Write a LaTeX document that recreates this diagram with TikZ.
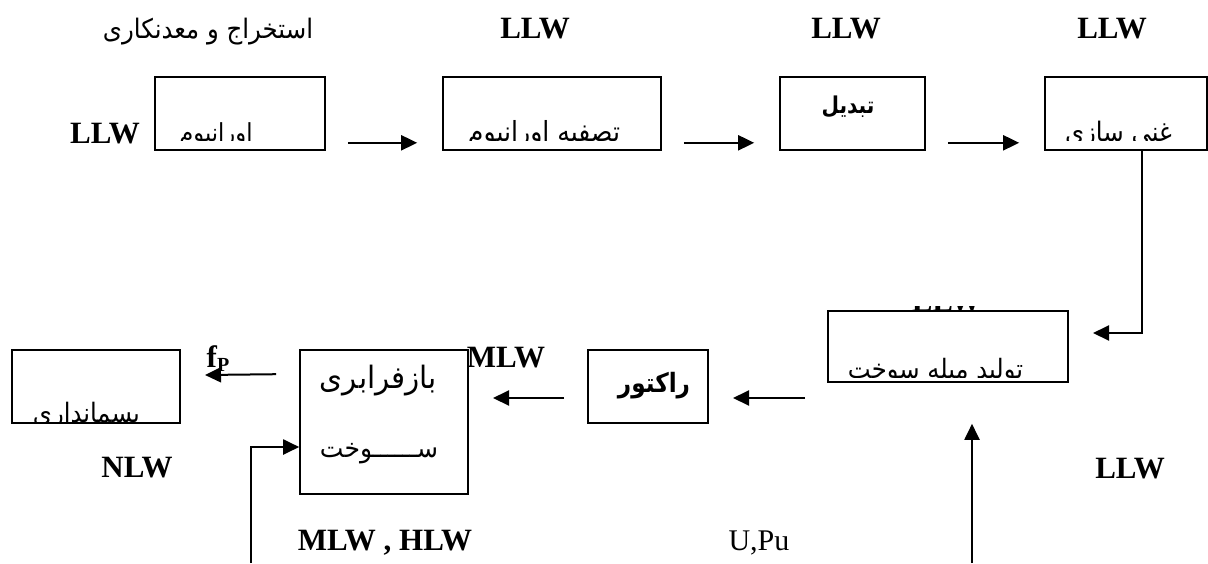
\documentclass[tikz,border=0pt]{standalone}
\usepackage{graphicx}
\usepackage{fontspec}
\setmainfont{Liberation Serif}
\newfontfamily\arabicfont[Script=Arabic]{DejaVu Sans}
\TeXXeTstate=1
\usetikzlibrary{arrows.meta,calc}

% Persian text fitted to a given width, then stretched vertically by a factor
\newcommand{\fatext}[3]{\scalebox{1}[#2]{\resizebox{#1}{!}{\arabicfont #3}}}
\newcommand{\fabold}[3]{\scalebox{1}[#2]{\resizebox{#1}{!}{\arabicfont\bfseries #3}}}

\tikzset{
  box/.style={draw, line width=1.6pt, inner sep=0pt},
  arr/.style={line width=2pt, -{Triangle[length=16pt,width=15pt]}},
  lbl/.style={font=\fontsize{31}{31}\selectfont\bfseries, inner sep=0pt, anchor=base},
  plainlbl/.style={font=\fontsize{30}{30}\selectfont, inner sep=0pt, anchor=base},
  fa/.style={inner sep=0pt, anchor=base}
}

\begin{document}
\begin{tikzpicture}[x=1pt,y=-1pt]
\useasboundingbox (0,0) rectangle (1208,563);

% ---- process boxes ----
\node[box, minimum width=170pt, minimum height=73pt] (b1) at (240,113.5) {};
\node[box, minimum width=218pt, minimum height=73pt] (b2) at (552,113.5) {};
\node[box, minimum width=145pt, minimum height=73pt] (b3) at (852.5,113.5) {};
\node[box, minimum width=162pt, minimum height=73pt] (b4) at (1126,113.5) {};
\node[box, minimum width=240pt, minimum height=71pt] (b5) at (948,346.5) {};
\node[box, minimum width=120pt, minimum height=73pt] (b6) at (648,386.5) {};
\node[box, minimum width=168pt, minimum height=144pt] (b7) at (384,422) {};
\node[box, minimum width=168pt, minimum height=73pt] (b8) at (96,386.5) {};

% ---- box texts (lower lines cut off by the box) ----
\begin{scope}
  \clip (157,79) rectangle (323,140);
  \node[fa] (t1) at (216,141) {\fatext{73pt}{1.1}{\beginR اورانیوم\endR}};
\end{scope}
\begin{scope}
  \clip (445,79) rectangle (659,140);
  \node[fa] (t2) at (544,141) {\fatext{152pt}{1.1}{\beginR تصفیه اورانیوم\endR}};
\end{scope}
\node[fa] (t3) at (848,113) {\fabold{53pt}{1.15}{\beginR تبدیل\endR}};
\begin{scope}
  \clip (1047,79) rectangle (1205,140);
  \node[fa] (t4) at (1118.5,141) {\fatext{107pt}{1.1}{\beginR غنی سازی\endR}};
\end{scope}
\begin{scope}
  \clip (830,313) rectangle (1066,377);
  \node[fa] (t5) at (935.5,378) {\fatext{175pt}{1.1}{\beginR تولید میله سوخت\endR}};
\end{scope}
\node[fa] (t6) at (654,392) {\fabold{72pt}{1.15}{\beginR راکتور\endR}};
\node[fa] (t7a) at (378.5,388) {\fatext{117pt}{1.05}{\beginR بازفرابری\endR}};
\node[fa] (t7b) at (379,457) {\fatext{118pt}{1.05}{\beginR ســــــوخت\endR}};
\begin{scope}
  \clip (14,352) rectangle (178,421);
  \node[fa] (t8) at (86.5,422) {\fatext{107pt}{1.1}{\beginR پسمانداری\endR}};
\end{scope}

% ---- labels ----
\node[fa] (ex) at (208,38) {\fatext{210pt}{1.1}{\beginR استخراج و معدنکاری\endR}};
\node[lbl] (w1) at (105,143) {LLW};
\node[lbl] (w2) at (535,38) {LLW};
\node[lbl] (w3) at (846,38) {LLW};
\node[lbl] (w4) at (1112,38) {LLW};
\begin{scope}
  \clip (900,306) rectangle (995,311);
  \node[lbl] (w5) at (946.5,311) {LLW};
\end{scope}
\node[lbl] (w6) at (506,367) {MLW};
\node[lbl] (fp) at (218,367) {f\raisebox{-4pt}{\fontsize{20}{20}\selectfont P}};
\node[lbl] (w7) at (137,477) {NLW};
\node[lbl] (w8) at (385,550) {MLW , HLW};
\node[plainlbl] (upu) at (759,550) {U,Pu};
\node[lbl] (w9) at (1130,478) {LLW};

% ---- connector end points ----
\coordinate (a1s) at ($(b1.south east)+(22,-8)$);
\coordinate (a1e) at ($(b2.south west)+(-25,-8)$);
\coordinate (a2s) at ($(b2.south east)+(22,-8)$);
\coordinate (a2e) at ($(b3.south west)+(-25,-8)$);
\coordinate (a3s) at ($(b3.south east)+(22,-8)$);
\coordinate (a3e) at ($(b4.south west)+(-25,-8)$);
\coordinate (a4e) at (1093,333);
\coordinate (a5s) at (805,398);
\coordinate (a5e) at (733,398);
\coordinate (a6s) at ($(b6.west)+(-23,11.5)$);
\coordinate (a6e) at (493,398);
\coordinate (a7s) at ($(b7.north west)+(-23,25)$);
\coordinate (a7e) at (205,375);
\coordinate (fb) at (251,563);
\coordinate (up) at (972,563);

% ---- connectors ----
\draw[arr] (a1s) -- (a1e);
\draw[arr] (a2s) -- (a2e);
\draw[arr] (a3s) -- (a3e);
\draw[arr] ($(b4.south)+(16,0)$) |- (a4e);
\draw[arr] (a5s) -- (a5e);
\draw[arr] (a6s) -- (a6e);
\draw[arr] (a7s) -- (a7e);
\draw[arr] (fb) |- (b7.west |- 0,447);
\draw[arr] (up) -- ($(b5.south -| up)+(0,41)$);
\end{tikzpicture}
\end{document}
